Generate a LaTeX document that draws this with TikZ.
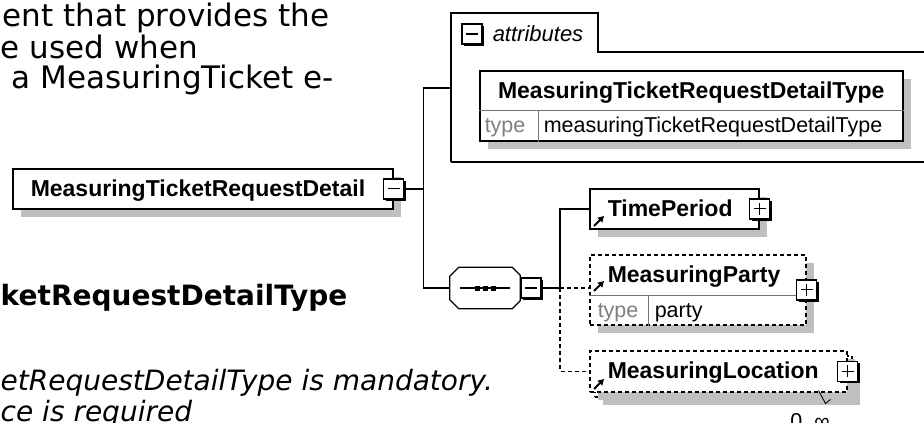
\documentclass[tikz,border=0pt]{standalone}
\usepackage{fontspec}
\setmainfont{Liberation Sans}
\newfontfamily\docfont{DejaVu Sans}
\usetikzlibrary{shadows,arrows.meta,positioning,calc}

\begin{document}
\begin{tikzpicture}[x=1pt,y=-1pt,line width=1.5pt,
font=\fontsize{21.5}{26}\selectfont,
boxshadow/.style={drop shadow={shadow xshift=8pt,shadow yshift=-8pt,fill=black!25,opacity=1}},
elem/.style={draw,fill=white,boxshadow,minimum height=40pt,inner xsep=18pt,inner ysep=0pt,
  align=left,text height=17pt,text depth=2pt,font=\fontsize{23}{26}\selectfont\bfseries},
optelem/.style={elem,dash pattern=on 4pt off 3pt},
pmbox/.style={draw,fill=white,minimum size=20pt,inner sep=0pt,
  drop shadow={shadow xshift=2pt,shadow yshift=-2pt,fill=black,opacity=1}},
minusbox/.style={pmbox,path picture={\draw[line width=1.3pt]
  ([xshift=4pt]path picture bounding box.west) -- ([xshift=-4pt]path picture bounding box.east);}},
plusbox/.style={pmbox,path picture={\draw[line width=1.3pt]
  ([xshift=4pt]path picture bounding box.west) -- ([xshift=-4pt]path picture bounding box.east)
  ([yshift=4pt]path picture bounding box.south) -- ([yshift=-4pt]path picture bounding box.north);}},
seqbox/.style={minimum width=69pt,minimum height=40pt,inner sep=0pt},
optconn/.style={dash pattern=on 4pt off 3pt},
refarrow/.style={line width=2pt,-{Triangle[length=6pt,width=6.5pt]}},
cell/.style={anchor=base west,inner sep=0pt},
typekey/.style={cell,text=black!50},
divider/.style={line width=0.9pt,draw=black!55},
docline/.style={anchor=base west,inner sep=0pt,font=\docfont\fontsize{28}{34}\selectfont},
introline/.style={docline,font=\docfont\fontsize{31}{34}\selectfont}]
\useasboundingbox (0,0) rectangle (924,423);
\clip (0,0) rectangle (924,423);

% text of the page behind the diagram
\node[introline] (intro1) at (2,27) {ent that provides the};
\node[introline] (intro2) at (0,58) {e used when};
\node[introline] (intro3) at (11,88) {a MeasuringTicket e-};
\node[docline,font=\docfont\bfseries\fontsize{28}{34}\selectfont] (typehead) at (0,305) {ketRequestDetailType};
\node[docline,font=\docfont\itshape\fontsize{28}{34}\selectfont] (usage1) at (0,390) {etRequestDetailType is mandatory.};
\node[docline,font=\docfont\itshape\fontsize{28}{34}\selectfont] (usage2) at (0,421) {ce is required};

% element
\node[elem,text width=344pt,anchor=north west] (elem) at (12,168) {MeasuringTicketRequestDetail};
\node[minusbox] (elemtog) at (elem.east) {};
\coordinate (fork) at ([xshift=30pt]elem.east);

% attributes
\draw (451,162) -- (451,13) -- (598,13) -- (598,52) -- (935,52);
\draw (451,162) -- (935,162);
\coordinate (attrin) at (451,88);
\node[minusbox] (attrtog) at (472,34) {};
\node[cell,font=\fontsize{22}{26}\selectfont\itshape] (attrlabel) at (492,41) {attributes};
\node[draw,fill=white,boxshadow,minimum width=423pt,minimum height=70pt,anchor=north west] (attrtype) at (479,70) {};
\node[anchor=base,inner sep=0pt,font=\fontsize{23}{26}\selectfont\bfseries] (attrname) at ([yshift=-28pt]attrtype.north) {MeasuringTicketRequestDetailType};
\draw[divider] ([yshift=-40pt]attrtype.north west) -- ([yshift=-40pt]attrtype.north east);
\draw[divider] ([xshift=59pt,yshift=-40pt]attrtype.north west) -- ([xshift=59pt]attrtype.south west);
\node[typekey] (attrkey) at (484,132) {type};
\node[cell] (attrval) at (543,132) {measuringTicketRequestDetailType};

% sequence
\node[seqbox] (seq) at (485,288) {};
\fill[black!25,shift={(8,8)}] ([xshift=9pt]seq.north west) -- ([xshift=-8pt]seq.north east)
  -- ([yshift=-8pt]seq.north east) -- ([yshift=8pt]seq.south east) -- ([xshift=-8pt]seq.south east)
  -- ([xshift=9pt]seq.south west) -- ([yshift=9pt]seq.south west) -- ([yshift=-9pt]seq.north west) -- cycle;
\filldraw[fill=white,line width=1.2pt] ([xshift=9pt]seq.north west) -- ([xshift=-8pt]seq.north east)
  -- ([yshift=-8pt]seq.north east) -- ([yshift=8pt]seq.south east) -- ([xshift=-8pt]seq.south east)
  -- ([xshift=9pt]seq.south west) -- ([yshift=9pt]seq.south west) -- ([yshift=-9pt]seq.north west) -- cycle;
\draw ([xshift=-25pt]seq.center) -- ([xshift=25pt]seq.center);
\foreach \dx in {-8,0,8}
  \fill ([xshift=\dx pt]seq.center) +(-2.5,-2.5) rectangle +(2.5,2.5);
\node[minusbox,right=0pt of seq] (seqtog) {};
\coordinate[right=18pt of seqtog] (fork2);

% children
\node[elem,text width=133pt,anchor=north west] (tp) at (589,188) {TimePeriod};
\node[plusbox] (tptog) at (tp.east) {};
\draw[refarrow] ([shift={(5,38)}]tp.north west) -- ++(10,-10);

\node[optelem,minimum width=216pt,minimum height=70pt,anchor=north west] (mp) at (589,254) {};
\node[cell,font=\fontsize{23}{26}\selectfont\bfseries] (mpname) at (607,282) {MeasuringParty};
\draw[divider] ([yshift=-41pt]mp.north west) -- ([yshift=-41pt]mp.north east);
\draw[divider] ([xshift=59pt,yshift=-41pt]mp.north west) -- ([xshift=59pt]mp.south west);
\node[typekey] (mpkey) at (597,317) {type};
\node[cell] (mpval) at (654,317) {party};
\node[plusbox] (mptog) at (mp.east) {};
\draw[refarrow] ([shift={(5,37)}]mp.north west) -- ++(10,-10);

\node[optelem,minimum width=257pt,minimum height=41pt,anchor=north west] (mlback) at (594,355) {};
\node[optelem,drop shadow={opacity=0},text width=221pt,minimum height=41pt,anchor=north west] (ml) at (589,350) {MeasuringLocation};
\node[plusbox] (mltog) at (ml.east) {};
\draw[refarrow] ([shift={(5,39)}]ml.north west) -- ++(10,-10);
\node[anchor=base,inner sep=0pt] (mloccurs) at (810,428) {0..∞};
\draw[line width=0.9pt] ([shift={(-34,-7)}]mlback.south east) -- ++(7,13) -- ++(5,-4);

% connectors
\draw (elemtog) -- (fork);
\draw (fork) |- (attrin);
\draw (fork) |- (seq);
\draw (seqtog) -- (fork2);
\draw (fork2) |- (tp);
\draw[optconn] (fork2) -- (fork2 -| mp.west);
\draw[optconn] (fork2) |- (ml);
\end{tikzpicture}
\end{document}
